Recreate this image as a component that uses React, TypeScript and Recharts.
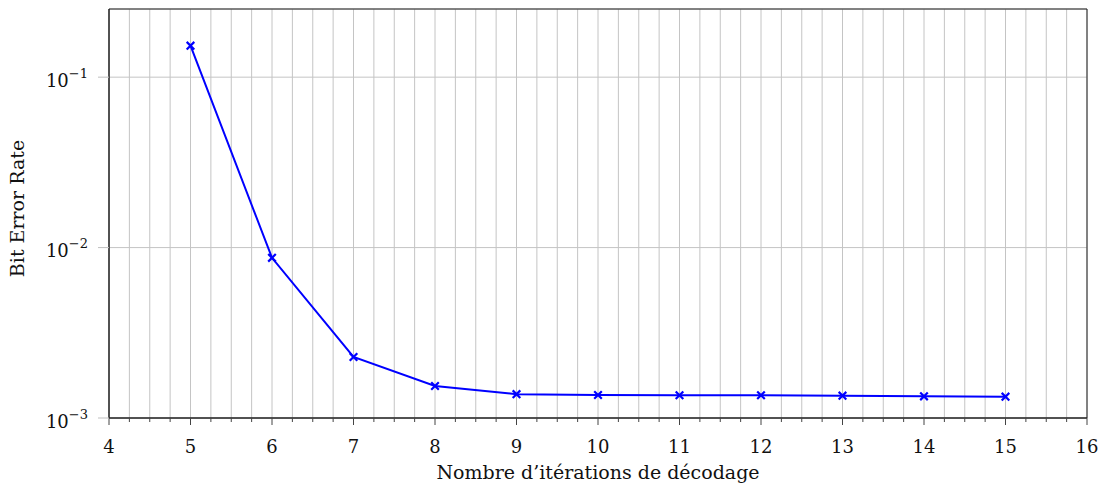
import React from "react";
import { LineChart, Line, XAxis, YAxis, CartesianGrid, ReferenceArea, Label } from "recharts";

const iterations = [5, 6, 7, 8, 9, 10, 11, 12, 13, 14, 15];
const berValues = [0.153, 0.00871, 0.00228, 0.00154, 0.00138, 0.001365, 0.00136, 0.00136, 0.001352, 0.00134, 0.001334];
const xMajorTicks = [4, 5, 6, 7, 8, 9, 10, 11, 12, 13, 14, 15, 16];
const xMinorStep = 0.25;
const yTicks = [0.001, 0.01, 0.1];
const yExponents = ["−3", "−2", "−1"];
const yDomain = [0.001, Math.pow(10, -0.6)];
const xLabel = "Nombre d’itérations de décodage";
const yLabel = "Bit Error Rate";

const xAllTicks: number[] = [];
for (let i = 0; i <= (xMajorTicks[xMajorTicks.length - 1] - xMajorTicks[0]) / xMinorStep; i++) {
  xAllTicks.push(xMajorTicks[0] + i * xMinorStep);
}

const data = iterations.map((it, i) => ({ it, ber: berValues[i] }));

const FONT = "'DejaVu Serif', 'Liberation Serif', serif";
const FS = 18;
const LFS = 19;

const XTick = (props: any) => {
  const { x, y, payload } = props;
  const v = payload.value;
  const major = Math.abs(v - Math.round(v)) < 1e-6;
  return (
    <g>
      <line x1={x} x2={x} y1={y} y2={y + (major ? 7 : 4)} stroke="#444" strokeWidth={1} />
      {major && (
        <text x={x} y={y + 35} textAnchor="middle" fontFamily={FONT} fontSize={FS} fill="#111">
          {v}
        </text>
      )}
    </g>
  );
};

const YTick = (props: any) => {
  const { x, y, payload } = props;
  const idx = yTicks.findIndex((t) => Math.abs(t - payload.value) / t < 1e-6);
  const exp = idx >= 0 ? yExponents[idx] : "";
  return (
    <g>
      <line x1={x - 11} x2={x} y1={y} y2={y} stroke="#bfbfbf" strokeWidth={1} />
      <text x={x - 21} y={y + 9.5} textAnchor="end" fontFamily={FONT} fontSize={FS} fill="#111">
        <tspan>10</tspan>
        <tspan dy={-9} fontSize={13}>{exp}</tspan>
      </text>
    </g>
  );
};

const YLabelContent = (props: any) => {
  const vb = props.viewBox || { x: 0, y: 0, width: 0, height: 0 };
  const cx = vb.x + 24;
  const cy = vb.y + vb.height / 2 - 5;
  return (
    <text
      x={cx}
      y={cy}
      transform={`rotate(-90, ${cx}, ${cy})`}
      textAnchor="middle"
      fontFamily={FONT}
      fontSize={LFS}
      fill="#111"
    >
      {yLabel}
    </text>
  );
};

const Cross = (props: any) => {
  const { cx, cy } = props;
  if (cx == null || cy == null) return null;
  const s = 3.8;
  return (
    <g>
      <line x1={cx - s} y1={cy - s} x2={cx + s} y2={cy + s} stroke="#0000ff" strokeWidth={2.2} />
      <line x1={cx - s} y1={cy + s} x2={cx + s} y2={cy - s} stroke="#0000ff" strokeWidth={2.2} />
    </g>
  );
};

export default function App() {
  return (
    <div style={{ position: "absolute", left: 0, top: 0, width: 1102, height: 488 }}>
      <LineChart width={1102} height={488} data={data} margin={{ top: 9, right: 15, left: 0, bottom: 0 }}>
        <CartesianGrid stroke="#c4c4c4" strokeWidth={1} />
        <XAxis
          dataKey="it"
          type="number"
          domain={[4, 16]}
          ticks={xAllTicks}
          interval={0}
          allowDecimals
          height={70}
          tickSize={0}
          tickMargin={0}
          tickLine={false}
          axisLine={{ stroke: "#222" }}
          tick={<XTick />}
          label={{ value: xLabel, position: "insideBottom", offset: 0, dy: -9, fontFamily: FONT, fontSize: LFS, fill: "#111" }}
        />
        <YAxis
          type="number"
          scale="log"
          domain={yDomain}
          ticks={yTicks}
          interval={0}
          allowDataOverflow
          width={109}
          tickSize={0}
          tickMargin={0}
          tickLine={false}
          axisLine={{ stroke: "#222" }}
          tick={<YTick />}
        >
          <Label content={<YLabelContent />} />
        </YAxis>
        <ReferenceArea x1={4} x2={16} y1={yDomain[0]} y2={yDomain[1]} fill="none" stroke="#222" strokeWidth={1} ifOverflow="visible" />
        <Line
          dataKey="ber"
          stroke="#0000ff"
          strokeWidth={2}
          dot={<Cross />}
          activeDot={false}
          isAnimationActive={false}
        />
      </LineChart>
    </div>
  );
}
